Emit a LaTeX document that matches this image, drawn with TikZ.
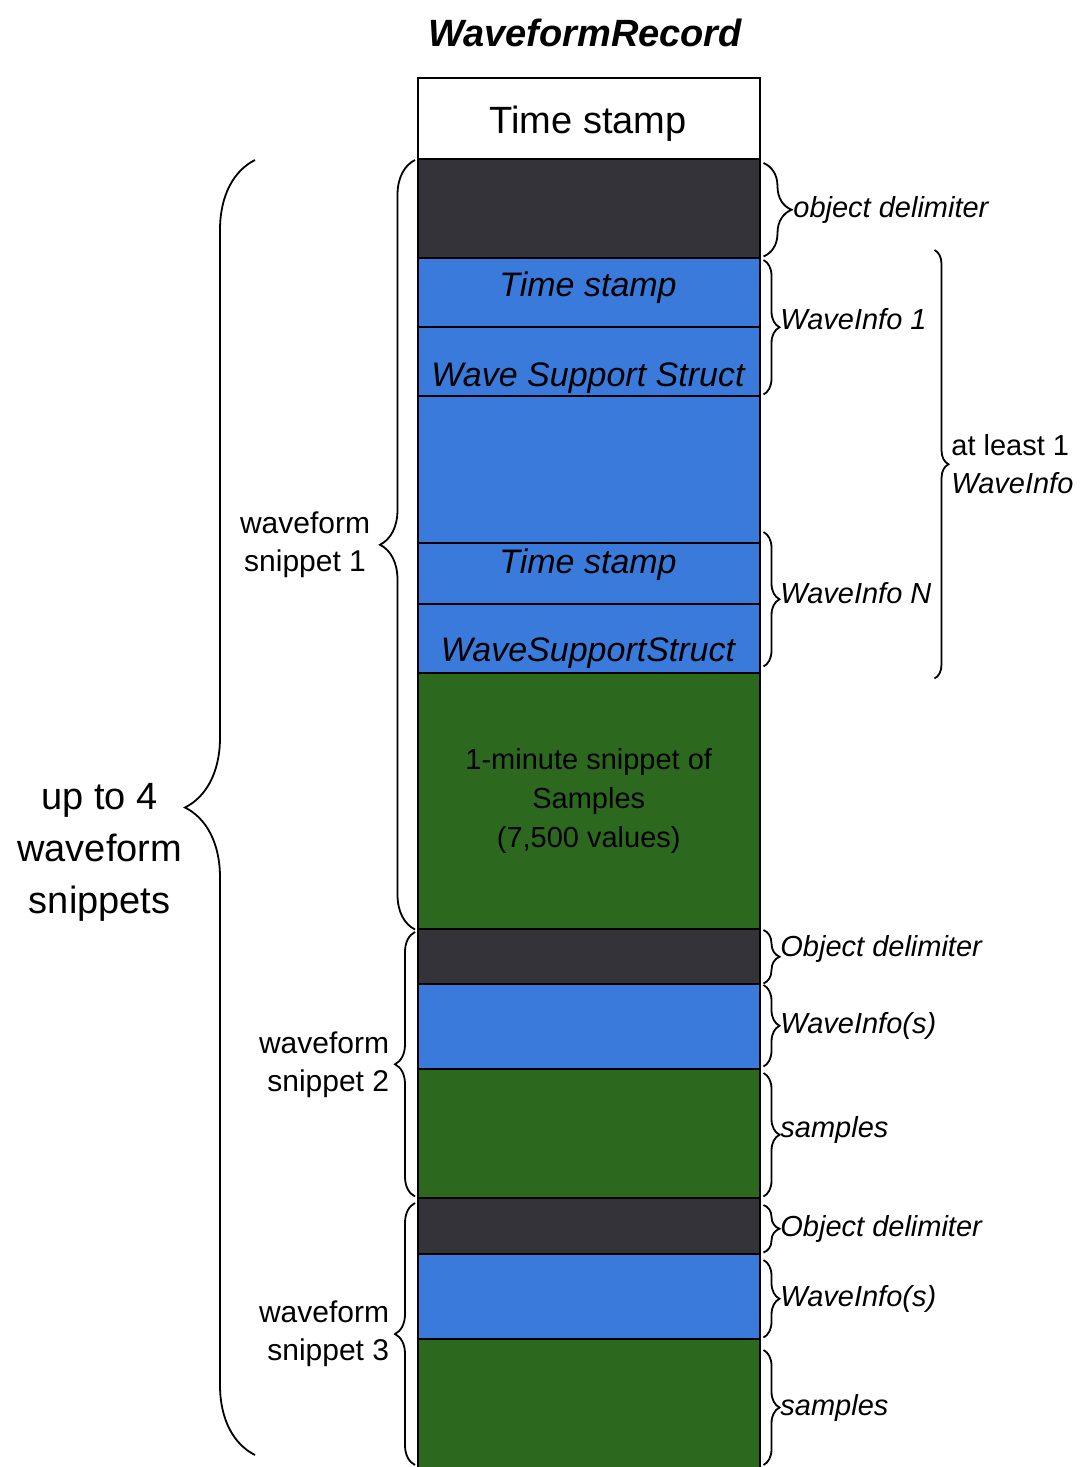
\documentclass[tikz,border=0pt]{standalone}
\usepackage{fontspec}
\setmainfont{Liberation Sans}
\usetikzlibrary{decorations.pathreplacing, calc}
\definecolor{delimgray}{RGB}{51,51,57}
\definecolor{infoblue}{RGB}{58,122,218}
\definecolor{samplegreen}{RGB}{45,104,31}

\begin{document}
\begin{tikzpicture}[x=1pt, y=-1pt]
% Define styles
\tikzset{
  field/.style={draw=black, line width=1.5pt, minimum width=342pt, inner sep=0pt, anchor=north west},
  fieldtext/.style={font=\fontsize{34}{40}\selectfont\itshape, inner sep=0pt},
  curly/.style={decorate, decoration={brace, amplitude=#1}, line width=1.8pt},
  curly/.default=16pt,
  note/.style={font=\fontsize{29}{38}\selectfont\itshape, inner sep=1pt, anchor=west},
  side/.style={font=\fontsize{30}{38}\selectfont, inner sep=1pt, anchor=east},
}
\useasboundingbox (0,0) rectangle (1081,1467);

% Title
\node[font=\fontsize{38}{44}\selectfont\bfseries\itshape] (title) at (585,33) {WaveformRecord};

% Record fields, top to bottom
\foreach \top/\h/\col/\name in {77/81/white/ts0, 158/99/delimgray/del1,
    257/69/infoblue/ts1, 326/69/infoblue/wss1, 395/147/infoblue/gap1,
    542/61/infoblue/ts2, 603/69/infoblue/wss2, 672/256/samplegreen/smp1,
    928/55/delimgray/del2, 983/85/infoblue/info2, 1068/129/samplegreen/smp2,
    1197/56/delimgray/del3, 1253/85/infoblue/info3, 1338/140/samplegreen/smp3}
  \node[field, fill=\col, minimum height=\h pt] (\name) at (417,\top) {};

% Field texts
\node[font=\fontsize{38}{44}\selectfont, inner sep=0pt] (ts0txt) at (588,124) {Time stamp};
\node[fieldtext] (ts1txt) at (588,288) {Time stamp};
\node[fieldtext] (wss1txt) at (588,378) {Wave Support Struct};
\node[fieldtext] (ts2txt) at (588,565) {Time stamp};
\node[fieldtext] (wss2txt) at (588,653) {WaveSupportStruct};
\node[font=\fontsize{29}{39}\selectfont, align=center] (smp1txt) at (smp1)
  {1-minute snippet of\\Samples\\(7,500 values)};

% Right braces
\draw[curly=28pt] ($(del1.north east)+(3,5)$) -- ($(del1.south east)+(3,-2)$)
  node[note, midway, xshift=28pt] (del1lbl) {object delimiter};
\draw[curly] ($(ts1.north east)+(3,3)$) -- ($(wss1.south east)+(3,-2)$)
  node[note, midway, xshift=15pt, yshift=8pt] (wi1lbl) {WaveInfo 1};
\draw[curly] ($(ts2.north east)+(3,-10)$) -- ($(wss2.south east)+(3,-7)$)
  node[note, midway, xshift=15pt, yshift=6pt] (winlbl) {WaveInfo N};
\draw[curly=14pt] ($(ts1.north east)+(174,-7)$) -- ($(wss2.south east)+(174,5)$)
  node[note, midway, xshift=15pt, align=left, font=\fontsize{29}{38}\selectfont] (wilbl)
  {at least 1\\\textit{WaveInfo}};
\draw[curly] ($(del2.north east)+(3,2)$) -- ($(del2.south east)+(3,-1)$)
  node[note, midway, xshift=15pt, yshift=8pt] (del2lbl) {Object delimiter};
\draw[curly] ($(info2.north east)+(3,2)$) -- ($(info2.south east)+(3,-3)$)
  node[note, midway, xshift=15pt] (wis2lbl) {WaveInfo(s)};
\draw[curly] ($(smp2.north east)+(3,5)$) -- ($(smp2.south east)+(3,-2)$)
  node[note, midway, xshift=15pt, yshift=5pt] (smp2lbl) {samples};
\draw[curly] ($(del3.north east)+(3,8)$) -- ($(del3.south east)+(3,-2)$)
  node[note, midway, xshift=15pt] (del3lbl) {Object delimiter};
\draw[curly] ($(info3.north east)+(3,7)$) -- ($(info3.south east)+(3,-2)$)
  node[note, midway, xshift=15pt] (wis3lbl) {WaveInfo(s)};
\draw[curly] ($(smp3.north east)+(3,12)$) -- ($(smp3.north east)+(3,127)$)
  node[note, midway, xshift=15pt] (smp3lbl) {samples};

% Left braces
\draw[curly=35pt] ($(smp1.south west)+(-2,0)$) -- ($(del1.north west)+(-2,2)$)
  node[side, midway, xshift=-43pt, align=center] (snip1lbl) {waveform\\snippet 1};
\draw[curly=20pt] ($(smp2.south west)+(-2,-2)$) -- ($(del2.north west)+(-2,4)$)
  node[side, midway, xshift=-24pt, align=right] (snip2lbl) {waveform\\snippet 2};
\draw[curly=20pt] ($(smp3.north west)+(-2,127)$) -- ($(del3.north west)+(-2,6)$)
  node[side, midway, xshift=-24pt, align=right] (snip3lbl) {waveform\\snippet 3};
\draw[curly=70pt] ($(smp3.north west)+(-162,117)$) -- ($(del1.north west)+(-162,2)$)
  node[side, midway, xshift=-71pt, yshift=-45pt, align=center, font=\fontsize{38}{52}\selectfont] (alllbl)
  {up to 4\\waveform\\snippets};
\end{tikzpicture}
\end{document}
